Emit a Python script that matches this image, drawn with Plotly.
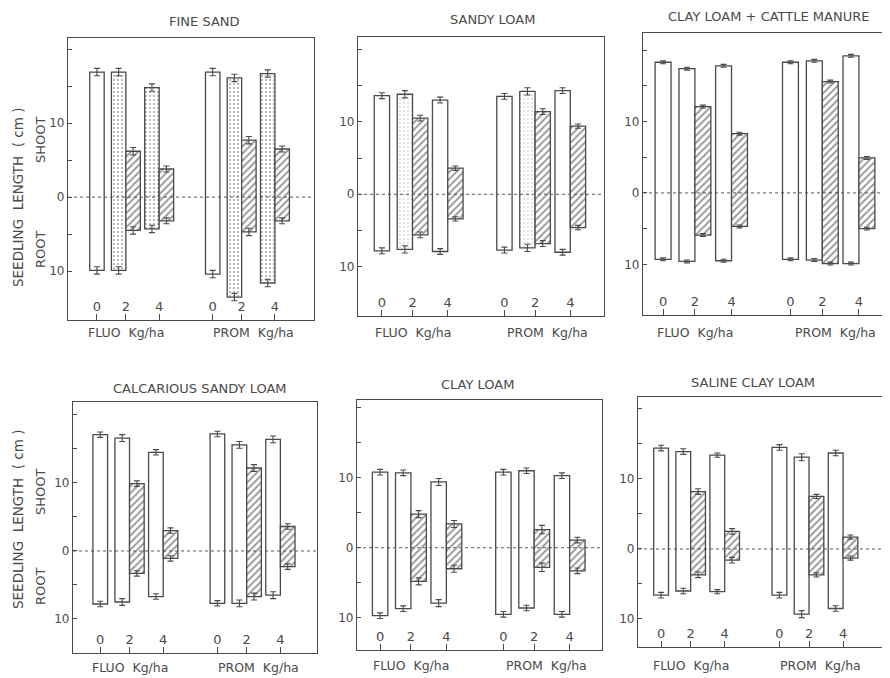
import plotly.graph_objects as go

# ---------------- data ----------------
titles = ["FINE SAND", "SANDY LOAM", "CLAY LOAM + CATTLE MANURE",
          "CALCARIOUS SANDY LOAM", "CLAY LOAM", "SALINE CLAY LOAM"]
herbicides = ["FLUO", "FLUO", "FLUO", "PROM", "PROM", "PROM"]
doses = ["0", "2", "4", "0", "2", "4"]
unit_labels = ["FLUO  Kg/ha", "PROM  Kg/ha"]

# open (white / stippled) bars: shoot length (up) and root length (down), cm
white_shoot_fine = [16.9, 16.9, 14.8, 16.9, 16.1, 16.7]
white_root_fine = [9.9, 9.9, 4.3, 10.4, 13.5, 11.6]
hatch_shoot_fine = [None, 6.2, 3.8, None, 7.7, 6.5]
hatch_root_fine = [None, 4.5, 3.2, None, 4.7, 3.2]

white_shoot_sandy = [13.6, 13.8, 13.0, 13.5, 14.2, 14.3]
white_root_sandy = [7.8, 7.6, 7.9, 7.7, 7.4, 8.0]
hatch_shoot_sandy = [None, 10.5, 3.6, None, 11.4, 9.4]
hatch_root_sandy = [None, 5.6, 3.4, None, 6.8, 4.6]

white_shoot_manure = [18.3, 17.4, 17.8, 18.3, 18.5, 19.2]
white_root_manure = [9.3, 9.6, 9.5, 9.3, 9.4, 9.9]
hatch_shoot_manure = [None, 12.1, 8.3, None, 15.6, 4.9]
hatch_root_manure = [None, 5.9, 4.7, None, 9.9, 5.0]

white_shoot_calc = [17.1, 16.6, 14.5, 17.2, 15.6, 16.4]
white_root_calc = [7.8, 7.5, 6.7, 7.7, 7.7, 6.5]
hatch_shoot_calc = [None, 9.9, 3.0, None, 12.2, 3.6]
hatch_root_calc = [None, 3.3, 1.1, None, 6.7, 2.3]

white_shoot_clay = [10.8, 10.7, 9.4, 10.8, 11.0, 10.3]
white_root_clay = [9.7, 8.7, 7.9, 9.5, 8.6, 9.5]
hatch_shoot_clay = [None, 4.8, 3.4, None, 2.6, 1.1]
hatch_root_clay = [None, 4.8, 3.0, None, 2.8, 3.3]

white_shoot_saline = [14.4, 13.9, 13.4, 14.5, 13.1, 13.7]
white_root_saline = [6.6, 6.0, 6.1, 6.6, 9.3, 8.5]
hatch_shoot_saline = [None, 8.2, 2.5, None, 7.5, 1.7]
hatch_root_saline = [None, 3.7, 1.6, None, 3.7, 1.3]

# standard errors (cm)
white_err_fine = [0.5, 0.5, 0.5, 0.5, 0.5, 0.5]
hatch_err_fine = [None, 0.5, 0.4, None, 0.5, 0.4]
white_err_sandy = [0.4, 0.5, 0.4, 0.4, 0.5, 0.4]
hatch_err_sandy = [None, 0.4, 0.3, None, 0.4, 0.3]
white_err_manure = [0.2, 0.2, 0.2, 0.2, 0.2, 0.2]
hatch_err_manure = [None, 0.2, 0.2, None, 0.2, 0.2]
white_err_calc = [0.4, 0.5, 0.4, 0.4, 0.5, 0.5]
hatch_err_calc = [None, 0.4, 0.4, None, 0.5, 0.4]
white_err_clay = [0.4, 0.4, 0.5, 0.4, 0.4, 0.4]
hatch_err_clay = [None, 0.5, 0.5, None, 0.6, 0.4]
white_err_saline = [0.4, 0.4, 0.3, 0.4, 0.5, 0.4]
hatch_err_saline = [None, 0.4, 0.4, None, 0.3, 0.3]

panels = [
    (white_shoot_fine, white_root_fine, hatch_shoot_fine, hatch_root_fine, white_err_fine, hatch_err_fine),
    (white_shoot_sandy, white_root_sandy, hatch_shoot_sandy, hatch_root_sandy, white_err_sandy, hatch_err_sandy),
    (white_shoot_manure, white_root_manure, hatch_shoot_manure, hatch_root_manure, white_err_manure, hatch_err_manure),
    (white_shoot_calc, white_root_calc, hatch_shoot_calc, hatch_root_calc, white_err_calc, hatch_err_calc),
    (white_shoot_clay, white_root_clay, hatch_shoot_clay, hatch_root_clay, white_err_clay, hatch_err_clay),
    (white_shoot_saline, white_root_saline, hatch_shoot_saline, hatch_root_saline, white_err_saline, hatch_err_saline),
]

# ---------------- layout config ----------------
dose_pos = {"0": 0.0, "2": 1.0, "4": 2.15}
herb_shift = {"FLUO": 0.0, "PROM": 4.0}
BW = 0.5

stipple = [
    ["", ".", ".", "", ".", "."],
    ["", ".", "", "", ".", ""],
    ["", "", "", "", "", ""],
    ["", "", "", "", "", ""],
    ["", "", "", "", "", ""],
    ["", "", "", "", "", ""],
]
stipple_solidity = [0.22, 0.08, 0.1, 0.1, 0.1, 0.1]

# page is offset by the default 8px body margin
OFF = 8
W, H = 890 - OFF, 678 - OFF
px_boxes = [  # left, right, top, bottom in page pixels
    (68, 314, 38, 320), (358, 604, 37, 316), (643, 886, 33, 315),
    (73, 317, 402, 653), (357, 602, 400, 650), (638, 883, 397, 647),
]
x_ranges = [(-1.0, 7.5), (-0.78, 7.25), (-0.63, 7.0), (-0.93, 7.4), (-0.75, 7.2), (-0.78, 7.5)]
y_ranges = [(-16.6, 21.5), (-16.8, 21.7), (-17.1, 22.4), (-15.0, 21.9), (-14.6, 21.1), (-14.0, 21.7)]
title_pos = [(204, 21), (492, 20), (768, 16), (200, 388), (477, 384), (753, 382)]
unit_y = [332, 332, 332, 667, 665, 665]


def px(x):
    return (x - OFF) / W


def py(y):
    return 1 - (y - OFF) / H


INK = "#4a4a4a"
FONT = "DejaVu Sans"

fig = go.Figure()
layout = dict(
    width=W, height=H, margin=dict(l=0, r=0, t=0, b=0, autoexpand=False),
    paper_bgcolor="white", plot_bgcolor="white",
    showlegend=False, barmode="overlay",
    font=dict(family=FONT, color=INK, size=11),
)
annotations = []
shapes = []
line = dict(color=INK, width=1.3)


def err(arr):
    return dict(type="data", array=arr, thickness=1.1, width=3, color=INK)


def note(text, x, y, xref="paper", angle=0, size=12):
    return dict(text=text, x=x, y=y, xref=xref, yref="paper", textangle=angle,
                xanchor="center", yanchor="middle", showarrow=False,
                font=dict(size=size, color=INK))


for i, (ws, wr, hs, hr, we, he) in enumerate(panels):
    k = "" if i == 0 else str(i + 1)
    xa, ya = "x" + k, "y" + k
    base = [herb_shift[h] + dose_pos[d] for h, d in zip(herbicides, doses)]
    xw = [b if d == "0" else b - BW / 2 for b, d in zip(base, doses)]
    xh = [b + BW / 2 for b in base]

    pat_w = dict(shape=stipple[i], fgcolor="#555", bgcolor="white",
                 size=4, solidity=stipple_solidity[i])
    pat_h = dict(shape="/", fgcolor="#2a2a2a", bgcolor="white", size=5, solidity=0.35)

    hx = [x for x, v in zip(xh, hs) if v is not None]
    hsv = [v for v in hs if v is not None]
    hrv = [v for v in hr if v is not None]
    hev = [v for v in he if v is not None]

    # bars span from -root to +shoot
    fig.add_trace(go.Bar(x=xw, y=[s + r for s, r in zip(ws, wr)], base=[-r for r in wr],
                         width=BW, xaxis=xa, yaxis=ya,
                         marker=dict(color="white", line=line, pattern=pat_w)))
    fig.add_trace(go.Bar(x=hx, y=[s + r for s, r in zip(hsv, hrv)], base=[-r for r in hrv],
                         width=BW, xaxis=xa, yaxis=ya,
                         marker=dict(color="white", line=line, pattern=pat_h)))
    # error bars at both ends
    for xs, ys, es in [(xw, ws, we), (xw, [-r for r in wr], we),
                       (hx, hsv, hev), (hx, [-r for r in hrv], hev)]:
        fig.add_trace(go.Scatter(x=xs, y=ys, mode="markers", xaxis=xa, yaxis=ya,
                                 marker=dict(size=1, color="rgba(0,0,0,0)"),
                                 error_y=err(es), hoverinfo="skip"))

    l, r, t, b = px_boxes[i]
    layout["xaxis" + k] = dict(
        domain=[px(l), px(r)], anchor=ya, range=list(x_ranges[i]),
        tickvals=base, ticktext=doses, ticks="inside", ticklen=6,
        tickcolor=INK, ticklabelposition="inside", tickfont=dict(size=13, color=INK),
        showline=True, linecolor=INK, linewidth=1.2, mirror=True,
        showgrid=False, zeroline=False, fixedrange=True,
    )
    layout["yaxis" + k] = dict(
        domain=[py(b), py(t)], anchor=xa, range=list(y_ranges[i]),
        tickvals=[-15, -10, -5, 0, 5, 10, 15, 20],
        ticktext=["", "10", "", "0", "", "10", "", ""],
        ticks="inside", ticklen=4, tickcolor=INK, tickfont=dict(size=12, color=INK),
        showline=True, linecolor=INK, linewidth=1.2, mirror=True,
        showgrid=False, zeroline=False, fixedrange=True,
    )
    shapes.append(dict(type="line", xref=xa + " domain", yref=ya, x0=0, x1=1, y0=0, y1=0,
                       line=dict(color="#555", width=1, dash="dot"), layer="above"))
    tx, ty = title_pos[i]
    annotations.append(note(titles[i], px(tx), py(ty), size=13))
    annotations.append(note(unit_labels[0], 1.0, py(unit_y[i]), xref=xa, size=12.5))
    annotations.append(note(unit_labels[1], 5.4, py(unit_y[i]), xref=xa, size=12.5))

for yc, ys, yr in [(198, 140, 250), (520, 492, 587)]:
    annotations.append(note("SEEDLING  LENGTH  ( cm )", px(18), py(yc), angle=-90, size=13.5))
    annotations.append(note("SHOOT", px(40), py(ys), angle=-90, size=13))
    annotations.append(note("ROOT", px(40), py(yr), angle=-90, size=13))

layout["annotations"] = annotations
layout["shapes"] = shapes
fig.update_layout(**layout)
fig.write_html("out.html")
